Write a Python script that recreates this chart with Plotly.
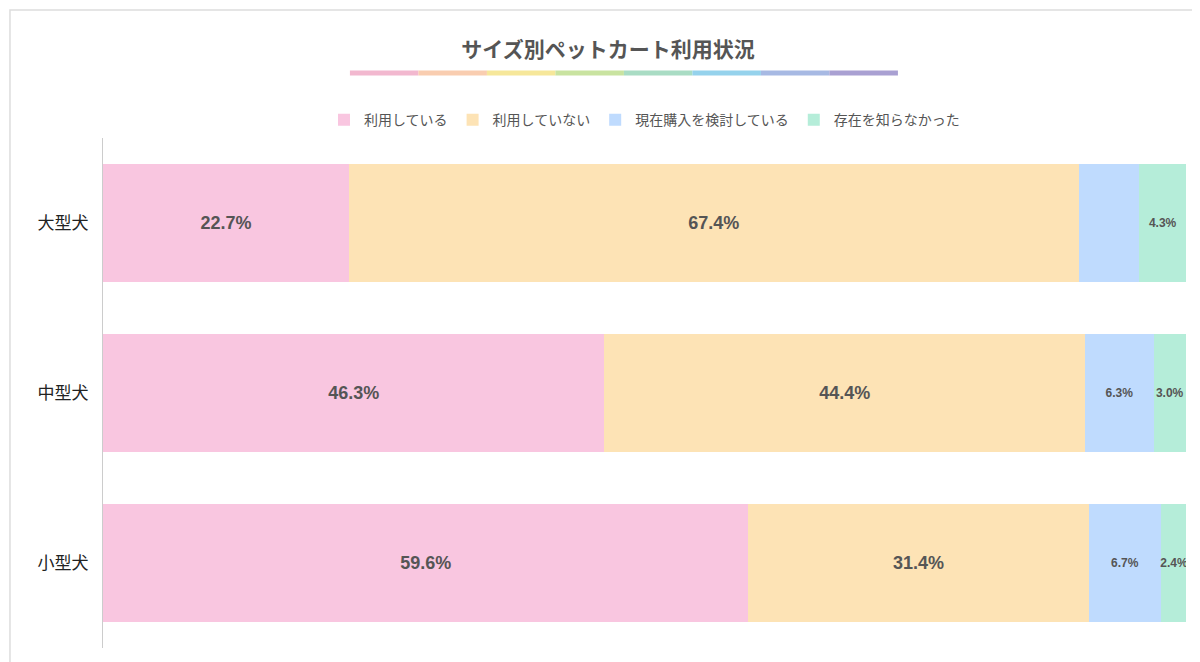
import plotly.graph_objects as go

SIZES = ["大型犬", "中型犬", "小型犬"]
SERIES = ["利用している", "利用していない", "現在購入を検討している", "存在を知らなかった"]
USING = [22.7, 46.3, 59.6]
NOT_USING = [67.4, 44.4, 31.4]
CONSIDERING = [5.6, 6.3, 6.7]
UNAWARE = [4.3, 3.0, 2.4]
COLORS = ["#F9C6E0", "#FDE3B5", "#BFDBFE", "#B5EDD9"]

fig = go.Figure()
for name, vals, color in zip(SERIES, [USING, NOT_USING, CONSIDERING, UNAWARE], COLORS):
    big = vals[0] > 15 or vals[1] > 15
    labels = []
    for v in vals:
        labels.append("" if (name == SERIES[2] and v == CONSIDERING[0]) else f"<b>{v:.1f}%</b>")
    fig.add_trace(go.Bar(
        y=SIZES, x=vals, name=name, orientation="h", marker=dict(color=color, line=dict(width=0)),
        text=labels, textposition="inside", insidetextanchor="middle", constraintext="none", textangle=0,
        textfont=dict(size=18 if big else 12, color="#555555", family="Liberation Sans, Arial"),
        hoverinfo="skip",
    ))

# rainbow underline under the title
RAINBOW = ["#F2B8CF", "#F9CDB0", "#F6E79A", "#C9E3A0", "#A9DCC4", "#95D2EC", "#A7B9E3", "#A9A0D2"]
x0, x1 = 0.228, 0.734
step = (x1 - x0) / len(RAINBOW)
shapes = []
for i, c in enumerate(RAINBOW):
    shapes.append(dict(type="line", xref="paper", yref="paper", x0=x0 + i * step, x1=x0 + (i + 1) * step,
                       y0=1.1275, y1=1.1275, line=dict(color=c, width=5)))
shapes.append(dict(type="rect", xref="paper", yref="paper", x0=-0.0859, x1=1.0175, y0=-0.039, y1=1.251,
                   line=dict(color="#DDDDDD", width=1.5)))

fig.update_layout(
    barmode="stack", bargap=0.31, width=1200, height=662,
    margin=dict(l=95, r=22, t=130, b=22, autoexpand=False),
    paper_bgcolor="white", plot_bgcolor="white",
    font=dict(family="Noto Sans CJK JP", color="#555555"),
    title=dict(text="<b>サイズ別ペットカート利用状況</b>", x=0.5, xanchor="center", y=0.937, yanchor="middle",
               font=dict(size=21, color="#555555")),
    legend=dict(orientation="h", x=0.5, xanchor="center", y=1.035, yanchor="middle",
                font=dict(size=14, color="#555555"), traceorder="normal", itemwidth=30),
    shapes=shapes, showlegend=True,
)
fig.update_xaxes(range=[0, 100], visible=False, automargin=False)
fig.update_yaxes(autorange="reversed", showline=True, linecolor="#CCCCCC", ticks="", automargin=False,
                 tickfont=dict(size=17, color="#222222"), ticklabelstandoff=10)

fig.write_html("out.html")
